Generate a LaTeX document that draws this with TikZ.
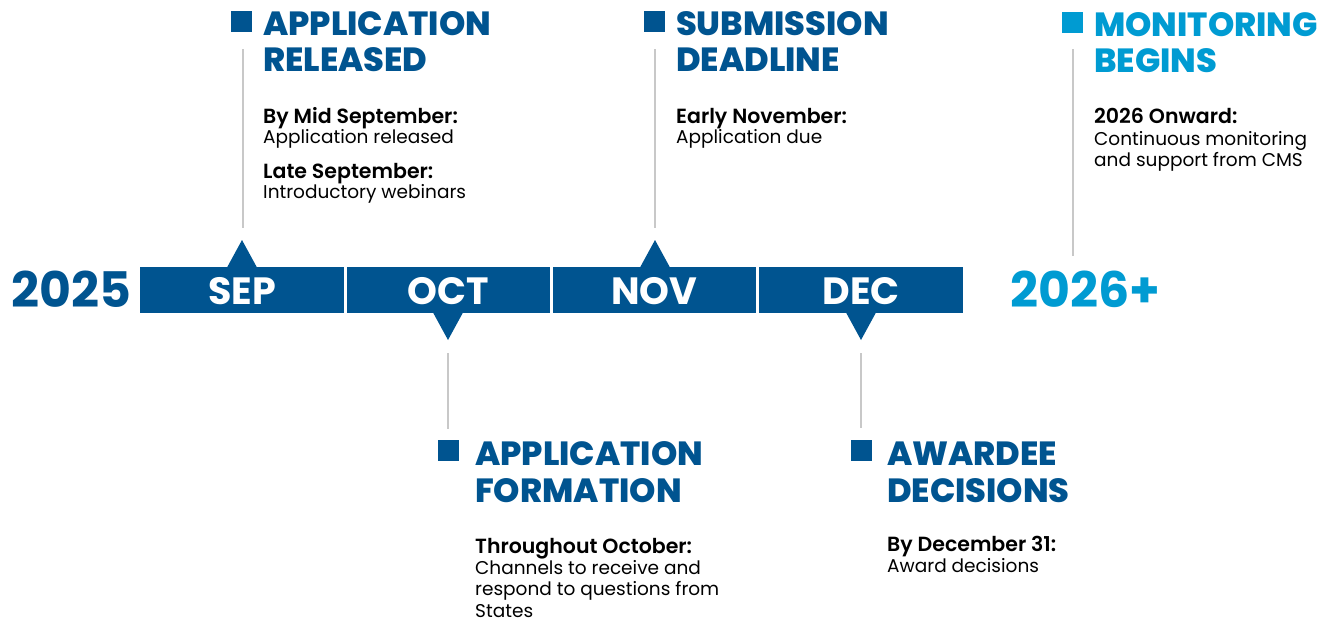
\documentclass[tikz,border=0pt]{standalone}
\usepackage{fontspec}
\setmainfont{Poppins}[BoldFont={Poppins Bold}]
\newfontfamily\semifont{Poppins SemiBold}
\newfontfamily\xbfont{Poppins ExtraBold}
\definecolor{cmsblue}{RGB}{0,84,144}
\definecolor{cmslight}{RGB}{0,155,210}
\definecolor{linegray}{RGB}{200,200,200}
\begin{document}
\begin{tikzpicture}[x=1pt,y=-1pt,
  head/.style={font=\xbfont\fontsize{33.5}{36}\selectfont, text=cmsblue, anchor=base west, inner sep=0},
  lab/.style={font=\semifont\fontsize{20.5}{21}\selectfont, text=black, anchor=base west, inner sep=0},
  txt/.style={font=\fontsize{18.5}{21}\selectfont, text=black, anchor=base west, inner sep=0},
  month/.style={font=\bfseries\fontsize{38}{40}\selectfont, text=white, anchor=base, inner sep=0},
  year/.style={font=\bfseries\fontsize{49}{50}\selectfont, anchor=base west, inner sep=0},
  seg/.style={fill=cmsblue, draw=none},
  sqbox/.style={fill=cmsblue, draw=none, minimum size=21pt, inner sep=0, anchor=north west},
  stem/.style={draw=linegray, line width=1.8pt},
]
\useasboundingbox (0,0) rectangle (1333,622);
% timeline bar
\fill[seg] (140,267) rectangle (344,313);
\fill[seg] (347,267) rectangle (550,313);
\fill[seg] (553,267) rectangle (756,313);
\fill[seg] (759,267) rectangle (963,313);
% pointers
\fill[cmsblue] (227,267.5) -- (242,240) -- (257,267.5) -- cycle;
\fill[cmsblue] (640,267.5) -- (655,240) -- (670,267.5) -- cycle;
\fill[cmsblue] (433,312.5) -- (448,340) -- (463,312.5) -- cycle;
\fill[cmsblue] (846,312.5) -- (861,340) -- (876,312.5) -- cycle;
% month labels
\node[month] (sep) at (242,304) {SEP};
\node[month] (oct) at (448.5,304) {OCT};
\node[month] (nov) at (654.5,304) {NOV};
\node[month] (dec) at (861,304) {DEC};
\node[year, text=cmsblue] (y25) at (11,307) {2025};
\node[year, text=cmslight] (y26) at (1010,307) {2026+};

% Application released
\node[sqbox] (m1) at (231,11) {};
\coordinate (a1) at (243,49); \coordinate (b1) at (243,228);
\draw[stem] (a1) -- (b1);
\node[head] (h1a) at (263,35) {APPLICATION};
\node[head] (h1b) at (263,71) {RELEASED};
\node[lab] (t1a) at (263,123) {By Mid September:};
\node[txt] (t1b) at (263,143) {Application released};
\node[lab] (t1c) at (263,178) {Late September:};
\node[txt] (t1d) at (263,198) {Introductory webinars};

% Submission deadline
\node[sqbox] (m2) at (644,11) {};
\coordinate (a2) at (655,49); \coordinate (b2) at (655,228);
\draw[stem] (a2) -- (b2);
\node[head] (h2a) at (676,35) {SUBMISSION};
\node[head] (h2b) at (676,71) {DEADLINE};
\node[lab] (t2a) at (676,123) {Early November:};
\node[txt] (t2b) at (676,143) {Application due};

% Monitoring begins
\node[sqbox, fill=cmslight] (m3) at (1062,12) {};
\coordinate (a3) at (1073,49); \coordinate (b3) at (1073,256);
\draw[stem] (a3) -- (b3);
\node[head, text=cmslight] (h3a) at (1094,36) {MONITORING};
\node[head, text=cmslight] (h3b) at (1094,72) {BEGINS};
\node[lab] (t3a) at (1094,123) {2026 Onward:};
\node[txt] (t3b) at (1094,145) {Continuous monitoring};
\node[txt] (t3c) at (1094,166) {and support from CMS};

% Application formation
\node[sqbox] (m4) at (438,440) {};
\coordinate (a4) at (448,353); \coordinate (b4) at (448,429);
\draw[stem] (a4) -- (b4);
\node[head] (h4a) at (475,465) {APPLICATION};
\node[head] (h4b) at (475,502) {FORMATION};
\node[lab] (t4a) at (475,553) {Throughout October:};
\node[txt] (t4b) at (475,574) {Channels to receive and};
\node[txt] (t4c) at (475,595) {respond to questions from};
\node[txt] (t4d) at (475,617) {States};

% Awardee decisions
\node[sqbox] (m5) at (851,440) {};
\coordinate (a5) at (861,353); \coordinate (b5) at (861,428);
\draw[stem] (a5) -- (b5);
\node[head] (h5a) at (887,465) {AWARDEE};
\node[head] (h5b) at (887,502) {DECISIONS};
\node[lab] (t5a) at (887,551) {By December 31:};
\node[txt] (t5b) at (887,572) {Award decisions};
\end{tikzpicture}
\end{document}
